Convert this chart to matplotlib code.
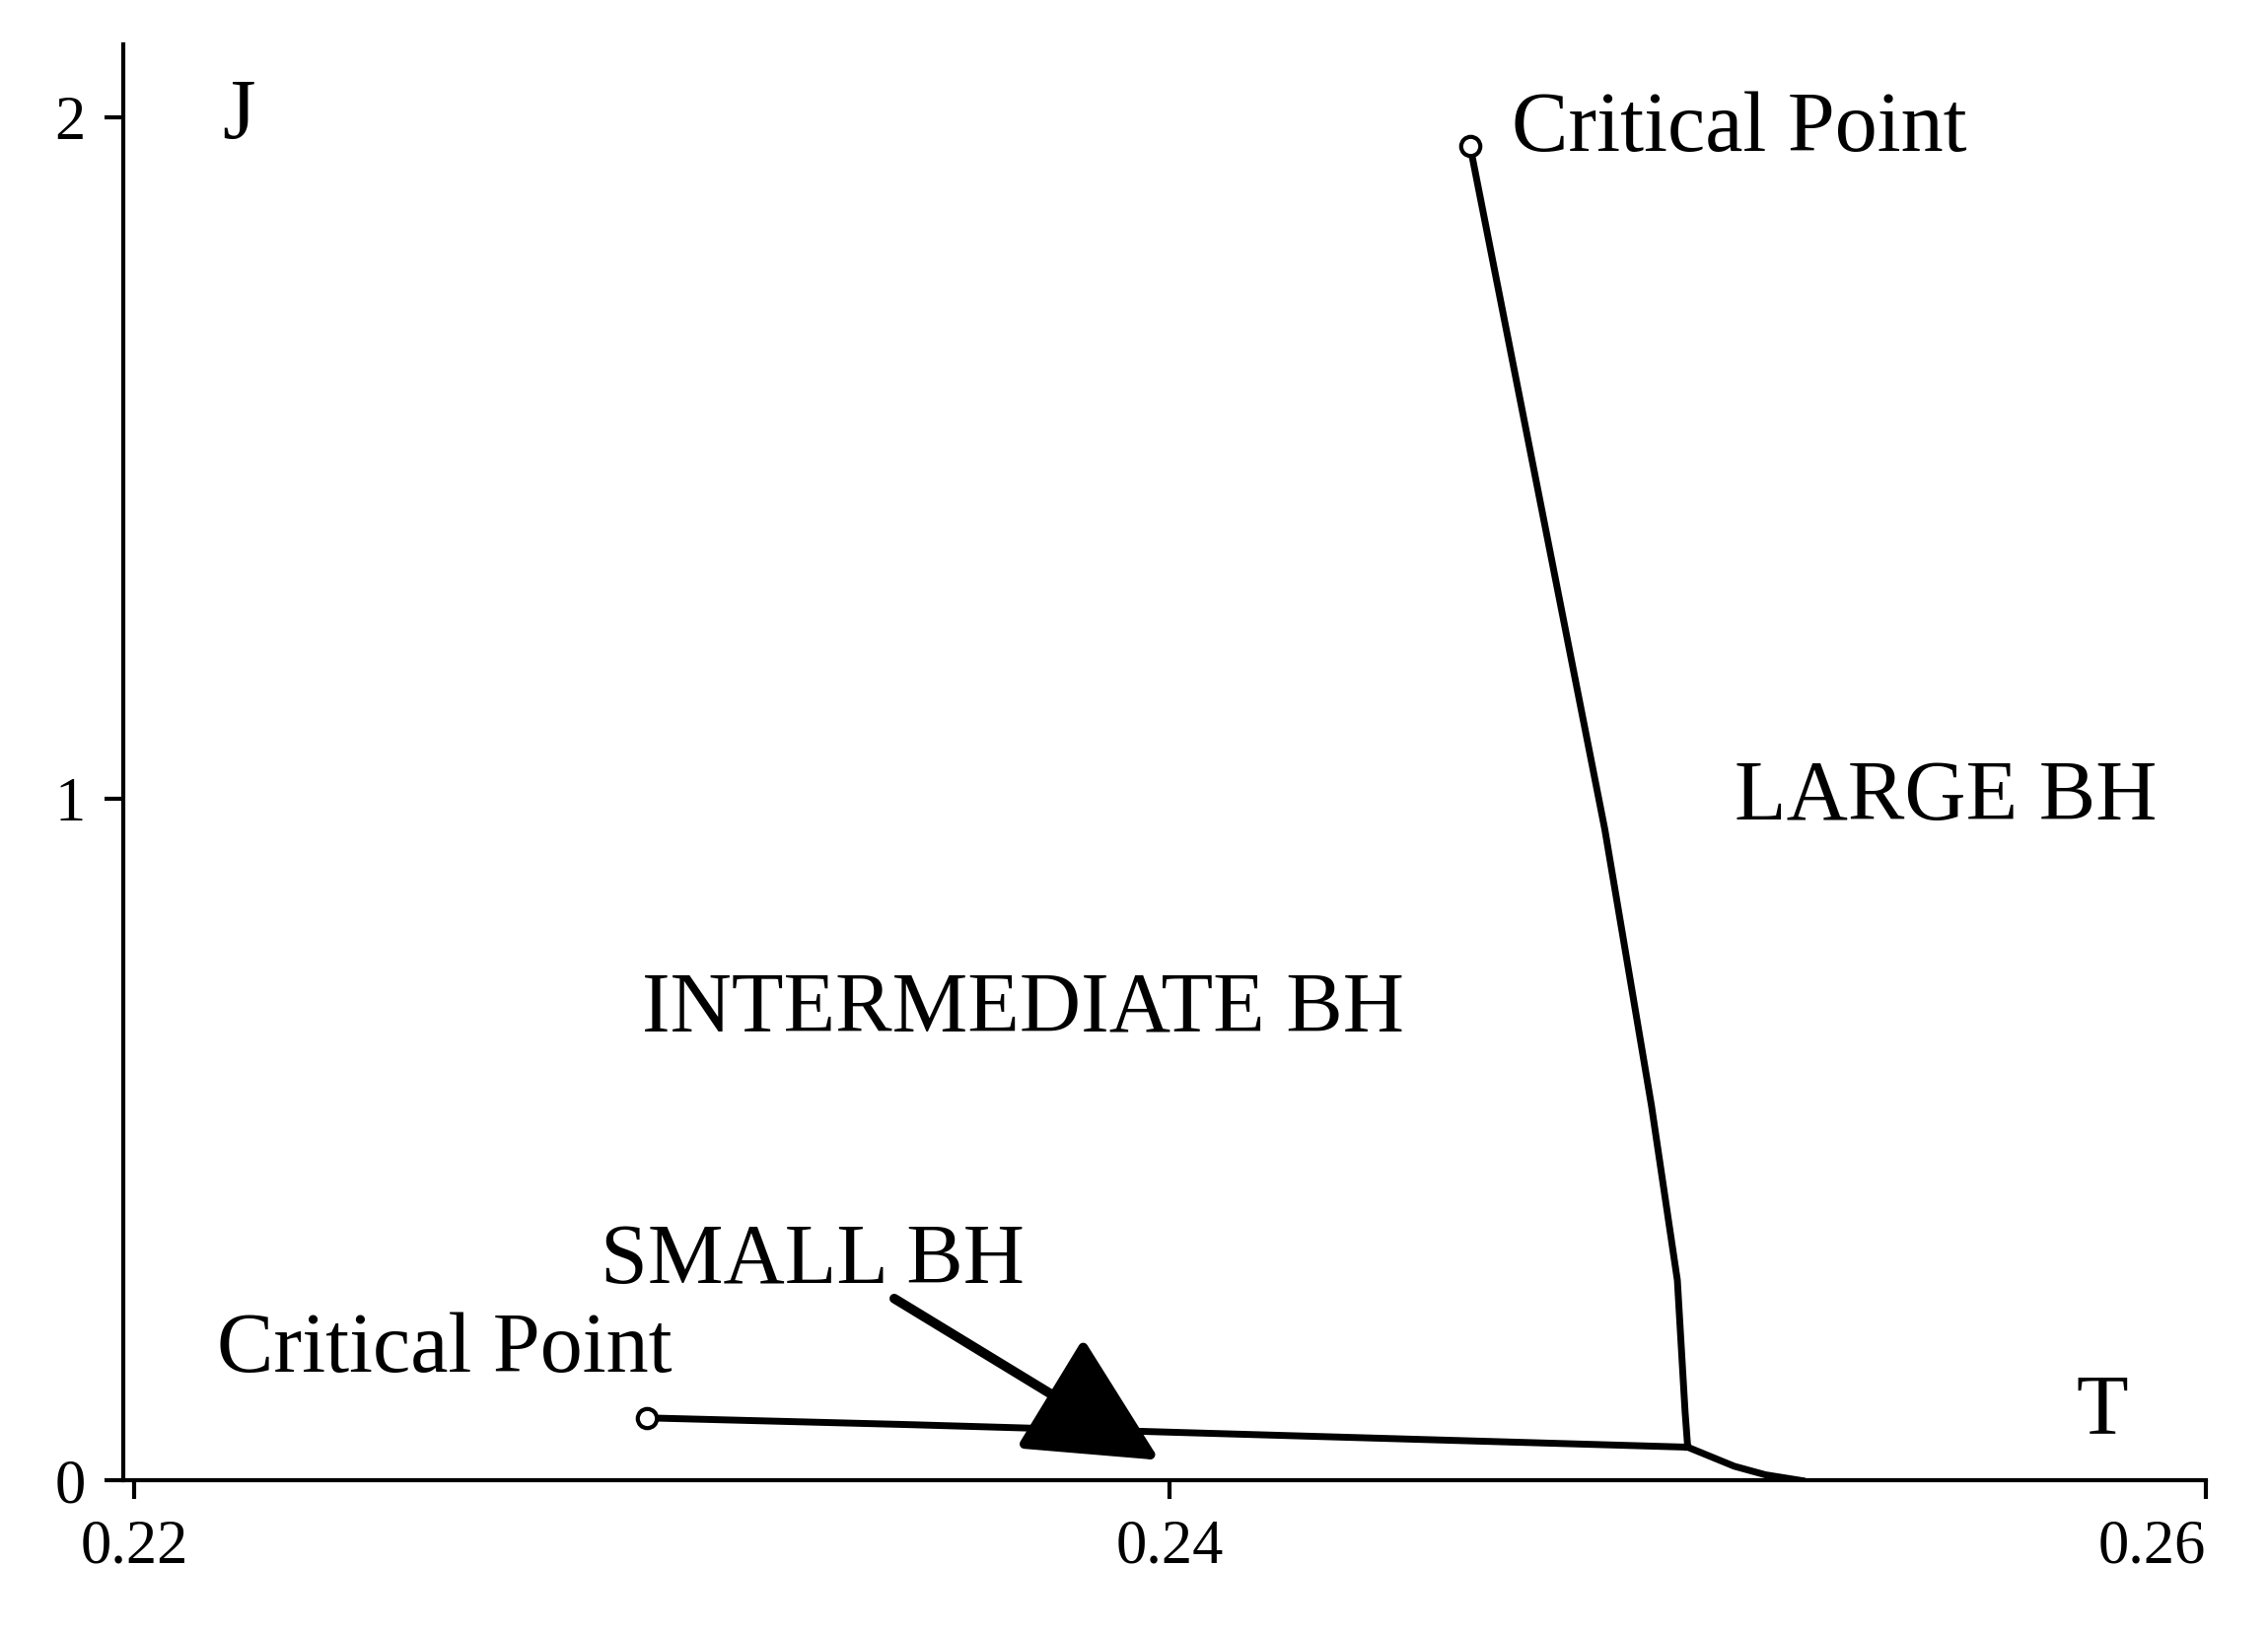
import matplotlib.pyplot as plt

# lower branch (small / intermediate coexistence), then continuation
low_T = [0.2299, 0.2350, 0.2400, 0.2450, 0.2500]
low_J = [0.092, 0.082, 0.071, 0.060, 0.049]
tail_T = [0.2500, 0.2509, 0.2515, 0.2522]
tail_J = [0.049, 0.021, 0.0085, 0.0]
# upper branch (intermediate / large coexistence)
up_T = [0.2458, 0.2484, 0.2493, 0.2498, 0.24995, 0.2500]
up_J = [1.957, 0.955, 0.55, 0.294, 0.10, 0.049]
crit_T = [0.2299, 0.2458]
crit_J = [0.092, 1.957]

plt.rcParams['font.family'] = ['Liberation Serif', 'DejaVu Serif']
fig = plt.figure(figsize=(23, 16.59), dpi=100)
ax = fig.add_axes([0.0545, 0.095, 0.918, 0.878])

ax.plot(low_T, low_J, color='black', lw=5)
ax.plot(tail_T, tail_J, color='black', lw=5)
ax.plot(up_T, up_J, color='black', lw=5)
ax.plot(crit_T, crit_J, 'o', mfc='white', mec='black', mew=3, ms=14)

ax.annotate('', xy=(0.2398, 0.030), xytext=(0.23468, 0.267),
            arrowprops=dict(arrowstyle='-|>,head_length=1.5,head_width=0.75',
                            mutation_scale=55, color='black', lw=7,
                            shrinkA=0, shrinkB=0))

fs = 62
ax.text(0.2466, 1.98, 'Critical Point', fontsize=fs, va='center')
ax.text(0.2216, 0.19, 'Critical Point', fontsize=fs, va='center')
ax.text(0.2509, 1.0, 'LARGE BH', fontsize=fs, va='center')
ax.text(0.2298, 0.69, 'INTERMEDIATE BH', fontsize=fs, va='center')
ax.text(0.2290, 0.32, 'SMALL BH', fontsize=fs, va='center')
ax.text(0.2217, 2.0, 'J', fontsize=fs, va='center')
ax.text(0.2575, 0.10, 'T', fontsize=fs, va='center')

ax.set_xlim(0.2198, 0.26)
ax.set_ylim(0, 2.107)
ax.set_xticks([0.22, 0.24, 0.26])
ax.set_xticklabels(['0.22', '0.24', '0.26'])
ax.set_yticks([0, 1, 2])
ax.set_yticklabels(['0', '1', '2'])
for s in ['top', 'right']:
    ax.spines[s].set_visible(False)
for s in ['left', 'bottom']:
    ax.spines[s].set_linewidth(3)
ax.tick_params(labelsize=45, width=3, length=14, direction='out', pad=14)
ax.get_xticklabels()[-1].set_horizontalalignment('right')

fig.savefig('out.png')
